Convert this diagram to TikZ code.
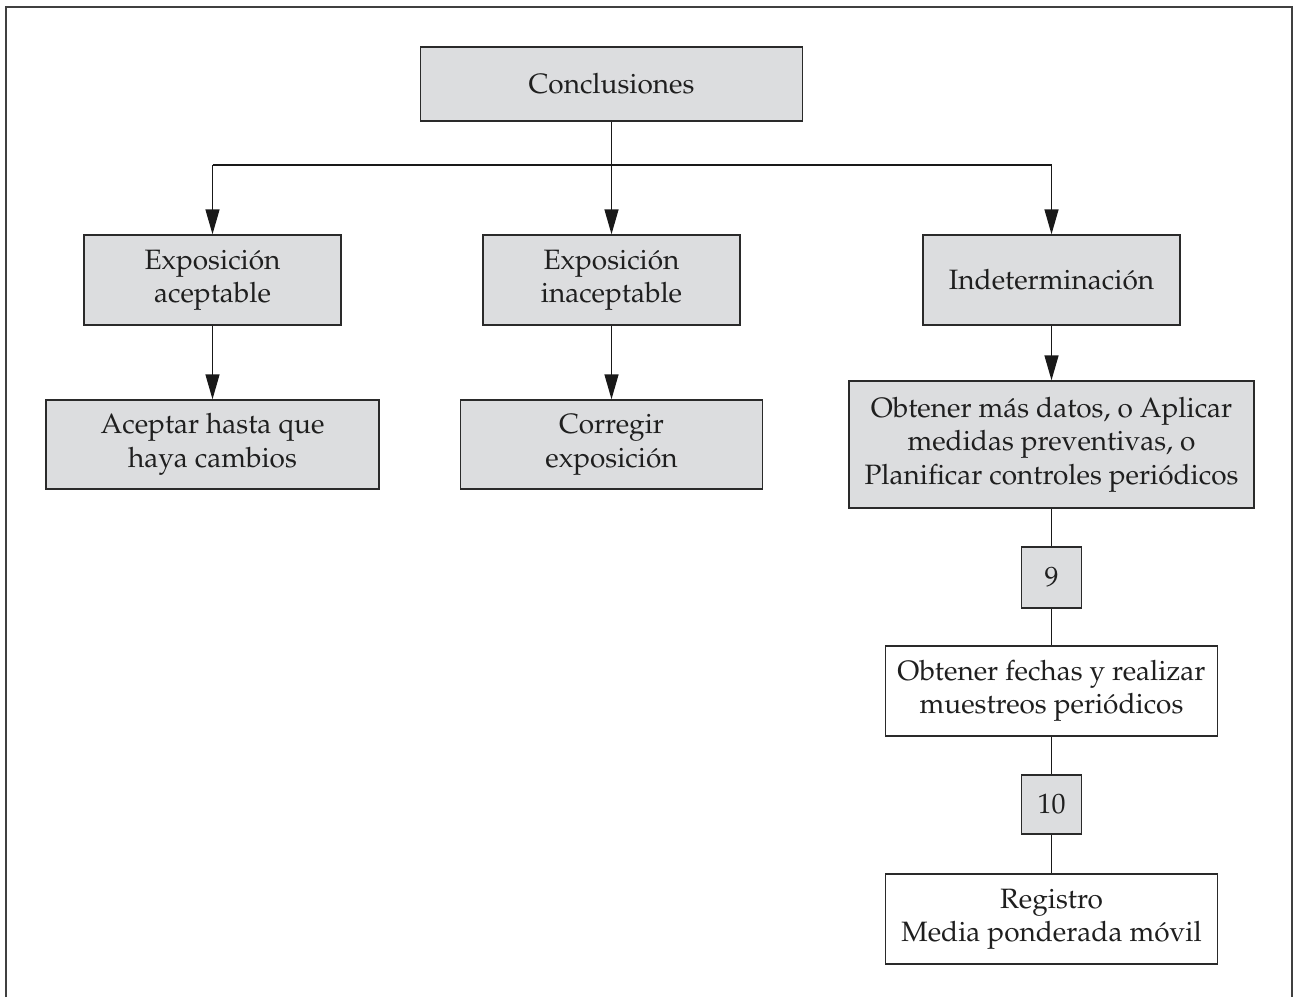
\documentclass[tikz,border=0pt]{standalone}
\usepackage[T1]{fontenc}
\usepackage{mathpazo}
\usetikzlibrary{arrows.meta}
\definecolor{boxgray}{HTML}{DCDDDF}
\definecolor{linegray}{HTML}{2A2A2A}
\tikzset{
  base/.style={draw=linegray, line width=1.4pt, align=center, inner sep=0pt,
    text=black!88, font=\fontsize{28}{33.5}\selectfont},
  graybox/.style={base, fill=boxgray},
  whitebox/.style={base, fill=white},
  conn/.style={draw=black!90, line width=1.4pt},
  arr/.style={conn, -{Triangle[length=25pt,width=14pt]}}
}
\begin{document}
\begin{tikzpicture}[x=1pt,y=-1pt]
\useasboundingbox (0,0) rectangle (1298,997);
\draw[draw=black!75, line width=2pt] (5.5,997) -- (5.5,6.5) -- (1291.5,6.5) -- (1291.5,997);

\node[graybox, minimum width=382pt, minimum height=74pt] (c) at (611.5,84) {Conclusiones};
\node[graybox, minimum width=257pt, minimum height=90pt] (ea) at (212.5,280) {Exposici\'on\\aceptable};
\node[graybox, minimum width=257pt, minimum height=90pt] (ei) at (611.5,280) {Exposici\'on\\inaceptable};
\node[graybox, minimum width=257pt, minimum height=90pt] (ind) at (1051.5,280) {Indeterminaci\'on};
\node[graybox, minimum width=333pt, minimum height=89pt] (ac) at (212.5,444.5) {Aceptar hasta que\\haya cambios};
\node[graybox, minimum width=302pt, minimum height=89pt] (co) at (611.5,444.5) {Corregir\\exposici\'on};
\node[graybox, minimum width=405pt, minimum height=127pt] (ob) at (1051.5,444.5) {Obtener m\'as datos, o Aplicar\\medidas preventivas, o\\Planificar controles peri\'odicos};
\node[graybox, minimum width=60pt, minimum height=61pt] (n9) at (1051.5,577.5) {9};
\node[whitebox, minimum width=332pt, minimum height=90pt] (fe) at (1051.5,691) {Obtener fechas y realizar\\muestreos peri\'odicos};
\node[graybox, minimum width=60pt, minimum height=59pt] (n10) at (1051.5,804.5) {10};
\node[whitebox, minimum width=332pt, minimum height=90pt] (re) at (1051.5,919) {Registro\\Media ponderada m\'ovil};

\coordinate (jl) at (212.5,165);
\coordinate (jr) at (1051.5,165);

\draw[conn] (jl) -- (jr);
\draw[arr] (c.south) -- (ei.north);
\draw[arr] (jl) -- (ea.north);
\draw[arr] (jr) -- (ind.north);
\draw[arr] (ea.south) -- (ac.north);
\draw[arr] (ei.south) -- (co.north);
\draw[arr] (ind.south) -- (ob.north);
\draw[conn] (ob.south) -- (n9.north);
\draw[conn] (n9.south) -- (fe.north);
\draw[conn] (fe.south) -- (n10.north);
\draw[conn] (n10.south) -- (re.north);
\end{tikzpicture}
\end{document}
